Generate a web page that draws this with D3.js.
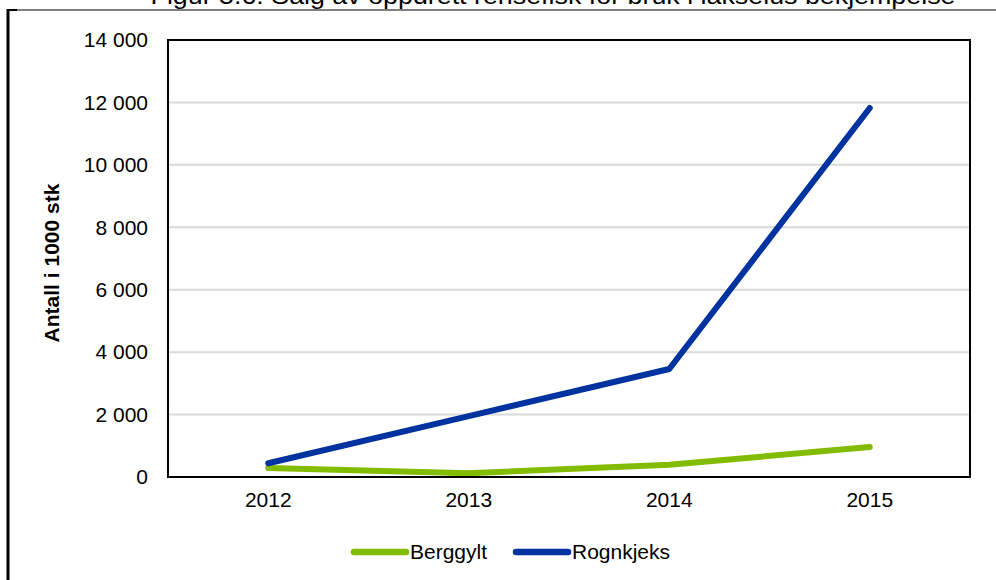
<!DOCTYPE html>
<html>
<head>
<meta charset="utf-8">
<script src="https://cdn.jsdelivr.net/npm/d3@7"></script>
<style>
  body { margin: 0; background: #fff; }
  svg { display: block; font-family: Arial, "Liberation Sans", sans-serif; }
</style>
</head>
<body>
<svg id="chart" width="996" height="580"></svg>
<script>
// data
const years = ["2012", "2013", "2014", "2015"]
const berggylt = [290, 120, 390, 960]
const rognkjeks = [440, 1950, 3460, 11820]
const yTicks = [0, 2000, 4000, 6000, 8000, 10000, 12000, 14000]
const seriesNames = ["Berggylt", "Rognkjeks"]
const seriesColors = ["#82bc00", "#0033a0"]

const svg = d3.select("#chart")
const plot = { left: 168, right: 970, top: 40, bottom: 477 }
const font = "Arial, 'Liberation Sans', sans-serif"

const fmt = d3.formatLocale({ decimal: ",", thousands: "\u00a0", grouping: [3], currency: ["", ""] }).format(",d")

const x = d3.scaleBand().domain(years).range([plot.left, plot.right])
const y = d3.scaleLinear().domain([0, 14000]).range([plot.bottom, plot.top])

// outer frame (cropped figure)
svg.append("line").attr("x1", 8).attr("x2", 996).attr("y1", 10).attr("y2", 10)
    .attr("stroke", "#000").attr("stroke-width", 1)
svg.append("line").attr("x1", 8).attr("x2", 8).attr("y1", 9).attr("y2", 580)
    .attr("stroke", "#000").attr("stroke-width", 3)
svg.append("line").attr("x1", 7).attr("x2", 17).attr("y1", 10).attr("y2", 10)
    .attr("stroke", "#000").attr("stroke-width", 2)

// title, mostly cut off at top
svg.append("text")
    .text("Figur 5.6: Salg av oppdrett rensefisk for bruk i lakselus bekjempelse")
    .attr("x", 553).attr("y", 4)
    .attr("text-anchor", "middle")
    .attr("font-size", "24px")
    .attr("textLength", 805)
    .attr("lengthAdjust", "spacingAndGlyphs")
    .attr("fill", "#000")

// gridlines
svg.append("g").selectAll("line")
    .data(yTicks.slice(1, -1))
    .join("line")
    .attr("x1", plot.left).attr("x2", plot.right)
    .attr("y1", d => y(d)).attr("y2", d => y(d))
    .attr("stroke", "#d9d9d9").attr("stroke-width", 2)

// y axis labels
const yAxis = svg.append("g")
    .attr("transform", `translate(${plot.left - 20},0)`)
    .call(d3.axisLeft(y).tickValues(yTicks).tickFormat(fmt).tickSize(0).tickPadding(0))
yAxis.select(".domain").remove()
yAxis.selectAll("text").attr("font-size", "21px").attr("font-family", font).attr("fill", "#000")

// x axis labels
const xAxis = svg.append("g")
    .attr("transform", `translate(0,${plot.bottom + 15})`)
    .call(d3.axisBottom(x).tickSize(0).tickPadding(0))
xAxis.select(".domain").remove()
xAxis.selectAll("text").attr("font-size", "21px").attr("font-family", font).attr("fill", "#000")

// y title
svg.append("text").text("Antall i 1000 stk")
    .attr("transform", `translate(59,263) rotate(-90)`)
    .attr("text-anchor", "middle")
    .attr("font-size", "21px").attr("font-weight", "bold")

// lines
const line = d3.line()
    .x((d, i) => x(years[i]) + x.bandwidth() / 2)
    .y(d => y(d))

;[berggylt, rognkjeks].forEach((vals, si) => {
    svg.append("path")
        .datum(vals)
        .attr("d", line)
        .attr("fill", "none")
        .attr("stroke", seriesColors[si])
        .attr("stroke-width", 6)
        .attr("stroke-linecap", "round")
        .attr("stroke-linejoin", "round")
})

// plot border
svg.append("rect")
    .attr("x", plot.left).attr("y", plot.top)
    .attr("width", plot.right - plot.left).attr("height", plot.bottom - plot.top)
    .attr("fill", "none").attr("stroke", "#000").attr("stroke-width", 2)

// legend
const legendX = [354, 516]
seriesNames.forEach((name, i) => {
    const g = svg.append("g").attr("transform", `translate(${legendX[i]},552)`)
    g.append("line").attr("x1", 0).attr("x2", 52).attr("y1", 0).attr("y2", 0)
        .attr("stroke", seriesColors[i]).attr("stroke-width", 6.5).attr("stroke-linecap", "round")
    g.append("text").text(name)
        .attr("x", 56).attr("y", 0).attr("dy", "0.35em")
        .attr("font-size", "21px")
})
</script>
</body>
</html>
